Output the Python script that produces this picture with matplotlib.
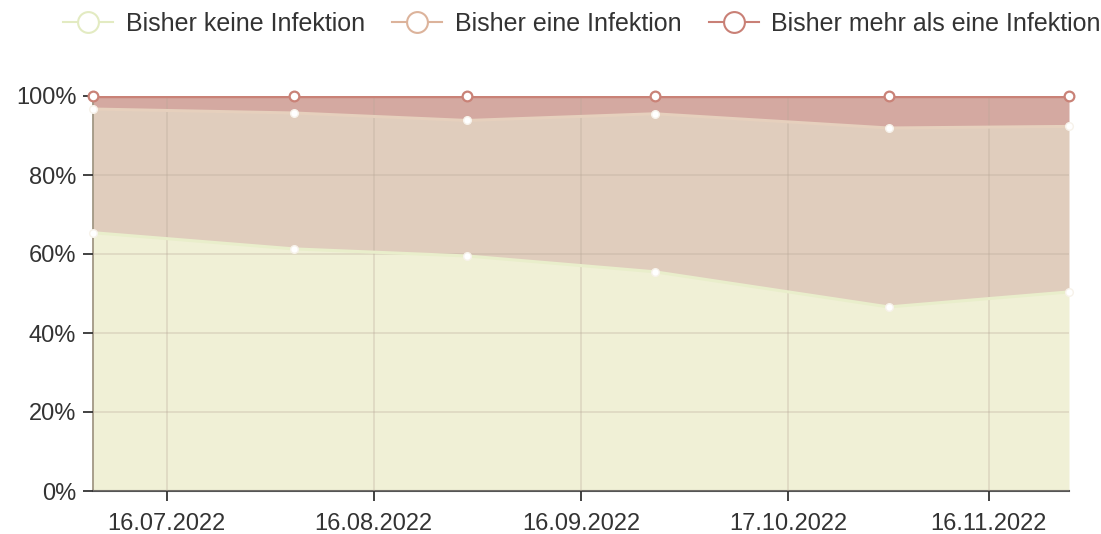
import matplotlib
matplotlib.use("Agg")
import matplotlib.pyplot as plt
import matplotlib.dates as mdates
from matplotlib.lines import Line2D
import numpy as np
import datetime as dt

plt.rcParams['font.family'] = ['Liberation Sans', 'DejaVu Sans']

dates = ["2022-07-05", "2022-08-04", "2022-08-30", "2022-09-27", "2022-11-01", "2022-11-28"]
keine = [65.4, 61.3, 59.5, 55.5, 46.6, 50.4]
eine = [31.3, 34.4, 34.3, 40.0, 45.3, 41.9]
mehr = [3.3, 4.3, 6.2, 4.5, 8.1, 7.7]
series_names = ["Bisher keine Infektion", "Bisher eine Infektion", "Bisher mehr als eine Infektion"]
tick_dates = ["2022-07-16", "2022-08-16", "2022-09-16", "2022-10-17", "2022-11-16"]
tick_labels = ["16.07.2022", "16.08.2022", "16.09.2022", "17.10.2022", "16.11.2022"]
y_ticks = [0, 20, 40, 60, 80, 100]

fill_colors = ["#f0f0d6", "#e0cdbd", "#d4a9a1"]
line_colors = ["#e9eecb", "#e6d0bd", "#c98277"]
legend_colors = ["#e3ebc2", "#dcb39b", "#c98076"]

x = [dt.datetime.strptime(d, "%Y-%m-%d") for d in dates]
xn = mdates.date2num(x)
k = np.array(keine)
e = np.array(eine)
m = np.array(mehr)
c1 = k
c2 = k + e
c3 = k + e + m

fig = plt.figure(figsize=(11.01, 5.34), dpi=100)
ax = fig.add_axes([93/1101, 1 - 491/534, (1069-93)/1101, (491-96)/534])

ax.fill_between(xn, 0, c1, color=fill_colors[0], zorder=1, linewidth=0)
ax.fill_between(xn, c1, c2, color=fill_colors[1], zorder=1, linewidth=0)
ax.fill_between(xn, c2, c3, color=fill_colors[2], zorder=1, linewidth=0)

ax.set_xlim(xn[0], xn[-1])
ax.set_ylim(0, 100)

tn = mdates.date2num([dt.datetime.strptime(d, "%Y-%m-%d") for d in tick_dates])
ax.set_xticks(tn)
ax.set_xticklabels(tick_labels)
ax.set_yticks(y_ticks)
ax.set_yticklabels([f"{v}%" for v in y_ticks])

ax.grid(True, color="#b9a898", alpha=0.35, linewidth=1.2, zorder=2)
ax.set_axisbelow(False)

for cum, lc, big in [(c1, line_colors[0], False), (c2, line_colors[1], False), (c3, line_colors[2], True)]:
    ax.plot(xn, cum, color=lc, linewidth=2.2 if not big else 2.5, zorder=3, solid_capstyle='butt')
    if big:
        ax.plot(xn, cum, linestyle='none', marker='o', markersize=7,
                markerfacecolor='white', markeredgecolor=lc, markeredgewidth=1.6, zorder=4, clip_on=False)
    else:
        ax.plot(xn, cum, linestyle='none', marker='o', markersize=5.5,
                markerfacecolor='white', markeredgecolor='#f7f2ea', markeredgewidth=1.0, zorder=4, clip_on=False)

for s in ['top', 'right']:
    ax.spines[s].set_visible(False)
ax.spines['left'].set_color('#9a8f7a')
ax.spines['left'].set_linewidth(1.2)
ax.spines['bottom'].set_color('#555555')
ax.spines['bottom'].set_linewidth(1.5)
ax.tick_params(axis='both', labelsize=17, colors='#333333', length=7, width=1.3)
ax.tick_params(axis='y', pad=5)
ax.tick_params(axis='x', pad=9)

handles = [Line2D([0], [0], color=c, linewidth=1.5, marker='o', markersize=15,
                  markerfacecolor='white', markeredgecolor=c, markeredgewidth=1.5)
           for c in legend_colors]
fig.legend(handles, series_names, loc='center', bbox_to_anchor=(582/1101, 1 - 24/534), ncol=3,
           frameon=False, fontsize=18, handlelength=2.0, handletextpad=0.5, columnspacing=1.1,
           labelcolor='#333333')

fig.savefig("out.png", dpi=100)
